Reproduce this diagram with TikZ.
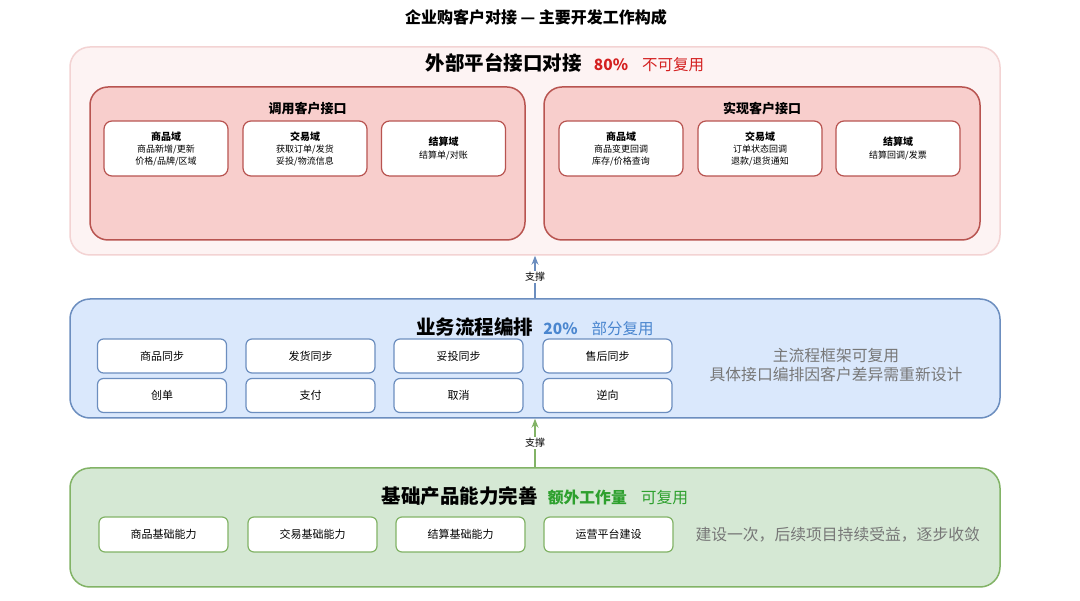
\documentclass[tikz,border=0pt]{standalone}
\usepackage{fontspec}
\setmainfont{Noto Sans CJK SC}
\usetikzlibrary{arrows.meta}
\definecolor{redfill}{HTML}{F8CECC}
\definecolor{redline}{HTML}{B85450}
\definecolor{redouterfill}{HTML}{FDF3F3}
\definecolor{redouterline}{HTML}{F3D3D3}
\definecolor{bluefill}{HTML}{DAE8FC}
\definecolor{blueline}{HTML}{6C8EBF}
\definecolor{greenfill}{HTML}{D5E8D4}
\definecolor{greenline}{HTML}{82B366}
\definecolor{hired}{HTML}{D42020}
\definecolor{hiblue}{HTML}{4A86CF}
\definecolor{higreen}{HTML}{2EA02E}
\definecolor{graytext}{HTML}{777777}
\newcommand{\fs}[1]{\fontsize{#1}{#1}\selectfont}
\tikzset{
  layerbox/.style={draw, line width=1.5pt, rounded corners=20pt, inner sep=0pt},
  panelbox/.style={draw=redline, fill=redfill, line width=1.5pt, rounded corners=18pt, inner sep=0pt},
  domainbox/.style={draw=redline, fill=white, line width=1.2pt, rounded corners=8pt, minimum width=124pt, minimum height=55pt, inner sep=0pt, align=center, font=\fontsize{9}{11.5}\selectfont},
  bluebox/.style={draw=blueline, fill=white, line width=1.2pt, rounded corners=6pt, minimum width=129pt, minimum height=34pt, inner sep=0pt, font=\fs{11}},
  greenbox/.style={draw=greenline, fill=white, line width=1.2pt, rounded corners=6pt, minimum width=129pt, minimum height=35pt, inner sep=0pt, font=\fs{11}},
  supportarrow/.style={-{Stealth[length=9pt,width=7pt]}, line width=1.2pt},
  supportlabel/.style={fill=white, inner sep=1.5pt, font=\fs{10}, text=black}
}
\begin{document}
\begin{tikzpicture}[x=1pt,y=-1pt]
\useasboundingbox (0,0) rectangle (1080,601);
\fill[white] (0,0) rectangle (1080,601);

\node[font=\fs{16}\bfseries] (title) at (536,17) {企业购客户对接 — 主要开发工作构成};

% ---------- red layer ----------
\node[layerbox, draw=redouterline, fill=redouterfill, minimum width=930pt, minimum height=208pt] (red) at (535,151) {};
\node (redhead) at (565,63) {{\fs{19.5}\bfseries 外部平台接口对接}\hspace{12pt}{\fs{15.5}\bfseries\color{hired}80\%}\hspace{14pt}{\fs{15.5}\color{hired}不可复用}};

\node[panelbox, minimum width=435pt, minimum height=153pt] (call) at (307.5,163.5) {};
\node[font=\fs{13}\bfseries] (calltitle) at (307.5,109) {调用客户接口};
\node[domainbox] (c1) at (166,148.5) {{\fs{10}\bfseries 商品域}\\[1pt]商品新增/更新\\价格/品牌/区域};
\node[domainbox] (c2) at (305,148.5) {{\fs{10}\bfseries 交易域}\\[1pt]获取订单/发货\\妥投/物流信息};
\node[domainbox] (c3) at (443.5,148.5) {{\fs{10}\bfseries 结算域}\\[1pt]结算单/对账};

\node[panelbox, minimum width=436pt, minimum height=153pt] (impl) at (762,163.5) {};
\node[font=\fs{13}\bfseries] (impltitle) at (762,109) {实现客户接口};
\node[domainbox] (i1) at (621,148.5) {{\fs{10}\bfseries 商品域}\\[1pt]商品变更回调\\库存/价格查询};
\node[domainbox] (i2) at (760,148.5) {{\fs{10}\bfseries 交易域}\\[1pt]订单状态回调\\退款/退货通知};
\node[domainbox] (i3) at (898,148.5) {{\fs{10}\bfseries 结算域}\\[1pt]结算回调/发票};

% ---------- blue layer ----------
\node[layerbox, draw=blueline, fill=bluefill, minimum width=930pt, minimum height=119pt] (blue) at (535,358.5) {};
\node (bluehead) at (535,327) {{\fs{19.5}\bfseries 业务流程编排}\hspace{10pt}{\fs{15.5}\bfseries\color{hiblue}20\%}\hspace{14pt}{\fs{15.5}\color{hiblue}部分复用}};
\node[bluebox] (b1) at (162,356) {商品同步};
\node[bluebox] (b2) at (310.5,356) {发货同步};
\node[bluebox] (b3) at (458.5,356) {妥投同步};
\node[bluebox] (b4) at (607.5,356) {售后同步};
\node[bluebox] (b5) at (162,395.5) {创单};
\node[bluebox] (b6) at (310.5,395.5) {支付};
\node[bluebox] (b7) at (458.5,395.5) {取消};
\node[bluebox] (b8) at (607.5,395.5) {逆向};
\node[font=\fontsize{15.8}{19}\selectfont, text=graytext, align=center] (bluenote) at (836,365.5) {主流程框架可复用\\具体接口编排因客户差异需重新设计};

% ---------- green layer ----------
\node[layerbox, draw=greenline, fill=greenfill, minimum width=930pt, minimum height=119pt] (green) at (535,527.5) {};
\node (greenhead) at (535,496) {{\fs{19.5}\bfseries 基础产品能力完善}\hspace{10pt}{\fs{15.8}\bfseries\color{higreen}额外工作量}\hspace{14pt}{\fs{15.8}\color{higreen}可复用}};
\node[greenbox] (g1) at (163.5,534.5) {商品基础能力};
\node[greenbox] (g2) at (312.5,534.5) {交易基础能力};
\node[greenbox] (g3) at (460.5,534.5) {结算基础能力};
\node[greenbox] (g4) at (608.5,534.5) {运营平台建设};
\node[font=\fs{15.8}, text=graytext, anchor=west] (greennote) at (692,535) {建设一次，后续项目持续受益，逐步收敛};

% ---------- connectors ----------
\draw[supportarrow, blueline] (blue.north) -- node[supportlabel] {支撑} (red.south);
\draw[supportarrow, greenline] (green.north) -- node[supportlabel] {支撑} (blue.south);
\end{tikzpicture}
\end{document}
